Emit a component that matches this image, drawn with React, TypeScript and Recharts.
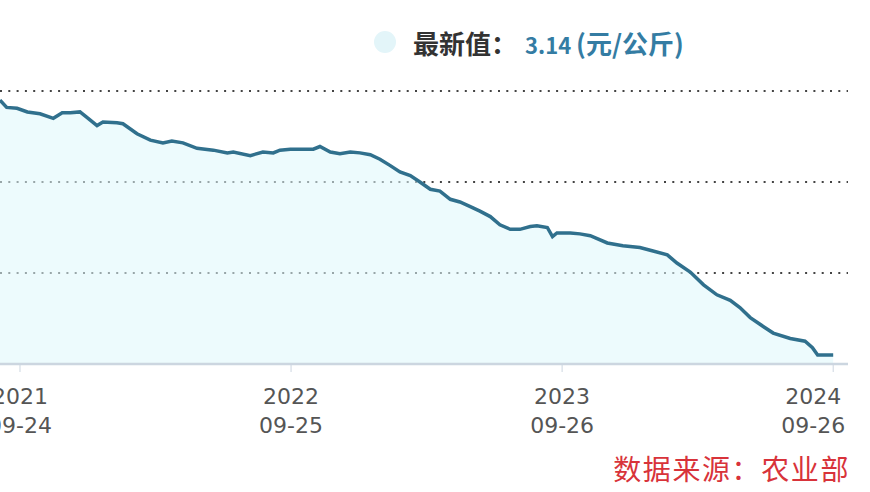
import { AreaChart, Area, XAxis, YAxis, CartesianGrid } from 'recharts';

// days since 2021-09-24, prices in 元/公斤
const days = [
  -27, -18, -4, 10, 27, 45, 57, 68, 81, 92, 104, 112, 131, 139, 158, 176, 193, 205, 220, 239,
  261, 280, 288, 311, 328, 342, 351, 365, 378, 396, 405, 419, 432, 446, 459, 473, 486, 500, 513, 527,
  540, 554, 567, 581, 594, 608, 621, 635, 648, 662, 675, 689, 698, 712, 719, 725, 743, 756, 770, 793,
  814, 837, 851, 874, 887, 905, 923, 941, 959, 972, 986, 1004, 1017, 1040, 1060, 1070, 1077, 1098,
];

const prices = [
  5.9, 5.82, 5.81, 5.77, 5.75, 5.7, 5.76, 5.76, 5.77, 5.7, 5.62, 5.66, 5.65, 5.64, 5.53, 5.46, 5.43, 5.45, 5.43, 5.37,
  5.35, 5.32, 5.33, 5.29, 5.33, 5.32, 5.35, 5.36, 5.36, 5.36, 5.39, 5.33, 5.31, 5.33, 5.32, 5.3, 5.25, 5.18, 5.11, 5.07,
  5.0, 4.92, 4.9, 4.81, 4.78, 4.73, 4.68, 4.62, 4.53, 4.48, 4.48, 4.51, 4.52, 4.5, 4.4, 4.44, 4.44, 4.43, 4.41, 4.33,
  4.3, 4.28, 4.25, 4.2, 4.11, 4.01, 3.87, 3.76, 3.7, 3.62, 3.51, 3.41, 3.34, 3.28, 3.25, 3.18, 3.1, 3.1,
];

const tickDays = [0, 366, 732, 1098];
const tickYears = ['2021', '2022', '2023', '2024'];
const tickDates = ['09-24', '09-25', '09-26', '09-26'];
const priceTicks = [4, 5, 6];

const data = days.map((d, i) => ({ day: d, price: prices[i] }));

// two-line date label, the last one is pulled left so it stays inside
const DateTick = ({ x, y, payload }: any) => {
  const i = tickDays.indexOf(payload.value);
  const cx = i === tickDays.length - 1 ? x - 20 : x;
  return (
    <text x={cx} y={y} textAnchor="middle" fill="#555" fontSize={22} fontFamily="DejaVu Sans">
      <tspan x={cx} dy={30}>{tickYears[i]}</tspan>
      <tspan x={cx} dy={29}>{tickDates[i]}</tspan>
    </text>
  );
};

const cjk = { fontSize: 26 };

export default function App() {
  return (
    <div style={{ position: 'absolute', left: 0, top: 0, width: 870, height: 492, overflow: 'hidden', background: '#fff' }}>
      <AreaChart width={870} height={492} data={data} margin={{ top: 91, right: 22, left: 0, bottom: 48 }}>
        <CartesianGrid vertical={false} stroke="#444" strokeWidth={2} strokeDasharray="2 6.3" />
        <XAxis
          dataKey="day"
          type="number"
          domain={[-27, 1118]}
          ticks={tickDays}
          height={80}
          tick={<DateTick />}
          tickSize={8}
          axisLine={{ stroke: '#ccd6e0', strokeWidth: 2.5 }}
          tickLine={{ stroke: '#ccd6e0' }}
        />
        <YAxis
          width={0}
          domain={[3, 6]}
          ticks={priceTicks}
          tickFormatter={() => ''}
          axisLine={false}
          tickLine={false}
        />
        <Area
          type="linear"
          dataKey="price"
          stroke="#30708d"
          strokeWidth={3.5}
          fill="#dff7fc"
          fillOpacity={0.55}
          dot={false}
          activeDot={false}
          isAnimationActive={false}
        />
      </AreaChart>

      <div style={{ position: 'absolute', left: 374, top: 31, width: 22, height: 22, borderRadius: '50%', background: '#e3f5f9' }} />
      <div style={{
        position: 'absolute',
        left: 413,
        top: 27,
        fontFamily: '"Noto Sans CJK SC", "DejaVu Sans"',
        fontSize: 22,
        fontWeight: 700,
        lineHeight: '32px',
        whiteSpace: 'nowrap',
        color: '#333'
      }}>
        <span style={cjk}>最新值：</span>
        <span style={{ color: '#347ca3', marginLeft: 8 }}>
          3.14 <span style={cjk}>(元/公斤)</span>
        </span>
      </div>

      <div style={{
        position: 'absolute',
        right: 20,
        top: 450,
        fontFamily: '"Noto Sans CJK SC"',
        fontSize: 28,
        lineHeight: '36px',
        letterSpacing: 1.6,
        whiteSpace: 'nowrap',
        color: '#d8333a'
      }}>
        数据来源：农业部
      </div>
    </div>
  );
}
